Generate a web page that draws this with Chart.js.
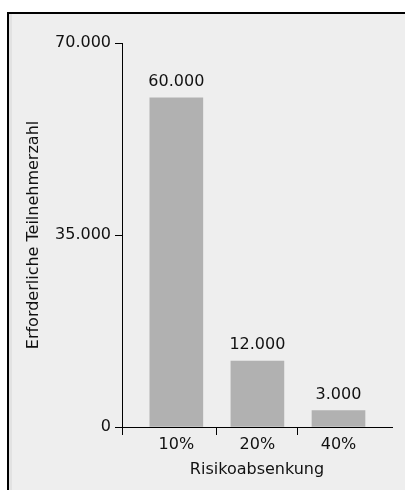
<!DOCTYPE html>
<html>
<head>
<meta charset="utf-8">
<script src="https://cdn.jsdelivr.net/npm/chart.js@4"></script>
<style>
  html, body { margin: 0; padding: 0; background: #ffffff; width: 405px; height: 490px; overflow: hidden; }
  #frame { position: absolute; left: 7px; top: 12px; width: 420px; height: 500px;
           background: #eeeeee; border-left: 2px solid #000; border-top: 2px solid #000;
           box-shadow: inset 3px 0 0 #e2e2e2; }
  #c { position: absolute; left: 0; top: 0; }
</style>
</head>
<body>
<div id="frame"></div>
<canvas id="c" width="405" height="490"></canvas>
<script>
const categories = ['10%', '20%', '40%'];
const values = [60000, 12000, 3000];
const yTicks = [0, 35000, 70000];
const yTitle = 'Erforderliche Teilnehmerzahl';
const xTitle = 'Risikoabsenkung';

const FONT = "'DejaVu Sans', sans-serif";
const fmt = v => String(v).replace(/\B(?=(\d{3})+(?!\d))/g, '.');

const barLabels = {
  id: 'barLabels',
  afterDatasetsDraw(chart) {
    const ctx = chart.ctx;
    const meta = chart.getDatasetMeta(0);
    ctx.save();
    ctx.font = '16px ' + FONT;
    ctx.fillStyle = '#111';
    ctx.textAlign = 'center';
    ctx.textBaseline = 'alphabetic';
    meta.data.forEach((bar, i) => {
      ctx.fillText(fmt(values[i]), bar.x, bar.y - 12);
    });
    ctx.restore();
  }
};

new Chart(document.getElementById('c'), {
  type: 'bar',
  data: {
    datasets: [{
      data: categories.map((c, i) => ({ x: i, y: values[i] })),
      backgroundColor: '#b1b1b1',
      borderWidth: 0,
      barThickness: 53
    }]
  },
  options: {
    responsive: false,
    animation: false,
    layout: { padding: { left: 0, right: 13, top: 43, bottom: 0 } },
    plugins: { legend: { display: false }, tooltip: { enabled: false } },
    scales: {
      x: {
        type: 'linear',
        offset: false,
        min: -0.67,
        max: 2.66,
        afterBuildTicks: s => { s.ticks = [-0.67, 0, 0.5, 1, 1.5, 2].map(v => ({ value: v })); },
        afterFit: s => { s.height = 63; },
        border: { display: true, color: '#000', width: 1 },
        grid: {
          offset: false,
          drawOnChartArea: false, drawTicks: true, tickLength: 8,
          color: ctx => (ctx.tick && Number.isInteger(ctx.tick.value)) ? 'rgba(0,0,0,0)' : '#000'
        },
        ticks: {
          autoSkip: false, maxRotation: 0, padding: 0,
          color: '#111', font: { family: FONT, size: 16 },
          callback: v => Number.isInteger(v) ? categories[v] : ''
        },
        title: { display: true, text: xTitle, color: '#111', font: { family: FONT, size: 16 }, padding: { top: 0, bottom: 11 } }
      },
      y: {
        min: 0,
        max: 70000,
        afterBuildTicks: s => { s.ticks = yTicks.map(v => ({ value: v })); },
        afterFit: s => { s.width = 122; },
        border: { display: true, color: '#000', width: 1 },
        grid: { drawOnChartArea: false, drawTicks: true, tickLength: 7, color: '#000' },
        ticks: {
          padding: 4, color: '#111', font: { family: FONT, size: 16 },
          callback: v => fmt(v)
        },
        title: { display: true, text: yTitle, color: '#111', font: { family: FONT, size: 16 }, padding: { top: 24, bottom: 0 } }
      }
    }
  },
  plugins: [barLabels]
});
</script>
</body>
</html>
